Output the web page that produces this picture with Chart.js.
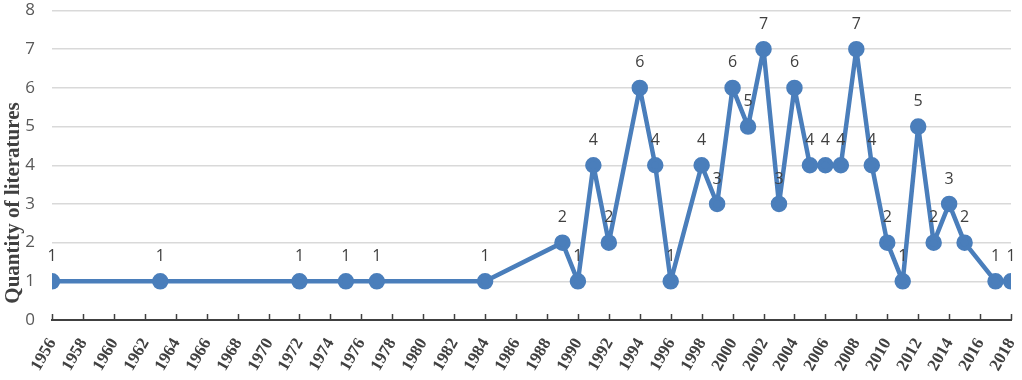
<!DOCTYPE html>
<html>
<head>
<meta charset="utf-8">
<script src="https://cdn.jsdelivr.net/npm/chart.js@4/dist/chart.umd.min.js"></script>
<style>
  html, body { margin: 0; padding: 0; background: #fff; }
  #wrap { width: 1022px; height: 380px; }
</style>
</head>
<body>
<div id="wrap"><canvas id="litChart"></canvas></div>
<script>
// years with publications and how many per year
const years = [1956, 1963, 1972, 1975, 1977, 1984, 1989, 1990, 1991, 1992, 1994, 1995, 1996,
  1998, 1999, 2000, 2001, 2002, 2003, 2004, 2005, 2006, 2007, 2008, 2009, 2010, 2011,
  2012, 2013, 2014, 2015, 2017, 2018];
const counts = [1, 1, 1, 1, 1, 1, 2, 1, 4, 2, 6, 4, 1,
  4, 3, 6, 5, 7, 3, 6, 4, 4, 4, 7, 4, 2, 1,
  5, 2, 3, 2, 1, 1];
const yearMin = 1956;
const yearMax = 2018;
const yearStep = 2;
const countMax = 8;
const yTitle = "Quantity of literatures";

const lineColor = "#4a7ebb";
const serif = "'Liberation Serif', 'DejaVu Serif', serif";
const sans = "'Open Sans', 'DejaVu Sans', sans-serif";

// number above each point
const valueLabels = {
  id: "valueLabels",
  afterDatasetsDraw(chart) {
    const ctx = chart.ctx;
    const meta = chart.getDatasetMeta(0);
    ctx.save();
    ctx.font = "16px " + sans;
    ctx.fillStyle = "#404040";
    ctx.textAlign = "center";
    ctx.textBaseline = "middle";
    meta.data.forEach((pt, i) => {
      ctx.fillText(String(counts[i]), pt.x, pt.y - 25);
    });
    ctx.restore();
  },
};

// tick marks on top of the x axis line, rotated year labels, y title
const axisDecor = {
  id: "axisDecor",
  afterDraw(chart) {
    const ctx = chart.ctx;
    const xs = chart.scales.x;
    const bottom = chart.chartArea.bottom;
    ctx.save();
    ctx.strokeStyle = "#404040";
    ctx.lineWidth = 1.5;
    ctx.fillStyle = "#404040";
    ctx.font = "bold 17px " + serif;
    ctx.textAlign = "right";
    ctx.textBaseline = "middle";
    xs.ticks.forEach((t) => {
      const px = Math.round(xs.getPixelForValue(t.value)) + 0.5;
      ctx.beginPath();
      ctx.moveTo(px, bottom - 6);
      ctx.lineTo(px, bottom);
      ctx.stroke();
      ctx.save();
      ctx.translate(px, bottom + 20);
      ctx.rotate(-Math.PI / 3);
      ctx.fillText(String(t.value), 0, 0);
      ctx.restore();
    });

    ctx.fillStyle = "#404040";
    ctx.font = "bold 21px " + serif;
    ctx.textAlign = "center";
    ctx.translate(14, 203);
    ctx.rotate(-Math.PI / 2);
    ctx.fillText(yTitle, 0, 0);
    ctx.restore();
  },
};

const ctx = document.getElementById("litChart").getContext("2d");
new Chart(ctx, {
  type: "line",
  data: {
    datasets: [
      {
        data: years.map((y, i) => ({ x: y, y: counts[i] })),
        borderColor: lineColor,
        backgroundColor: lineColor,
        borderWidth: 4.5,
        borderJoinStyle: "round",
        borderCapStyle: "round",
        pointRadius: 6,
        pointBackgroundColor: lineColor,
        pointBorderColor: lineColor,
        tension: 0,
        fill: false,
      },
    ],
  },
  options: {
    responsive: true,
    maintainAspectRatio: false,
    animation: false,
    layout: { padding: { top: 10, right: 11, left: 0, bottom: 0 } },
    plugins: {
      legend: { display: false },
      tooltip: { enabled: false },
    },
    scales: {
      x: {
        type: "linear",
        min: yearMin,
        max: yearMax,
        ticks: { stepSize: yearStep, autoSkip: false, display: false },
        grid: { display: false, drawTicks: false },
        border: { display: true, color: "#404040", width: 2 },
        afterFit: (scale) => {
          scale.height = 60;
          scale.paddingLeft = 0;
          scale.paddingRight = 0;
        },
      },
      y: {
        min: 0,
        max: countMax,
        ticks: {
          stepSize: 1,
          padding: 17,
          color: "#595959",
          font: { family: sans, size: 17 },
        },
        grid: { color: "#d9d9d9", lineWidth: 1.5, drawTicks: false },
        border: { display: false },
        afterFit: (scale) => {
          scale.width = 52;
          scale.paddingTop = 0;
          scale.paddingBottom = 0;
        },
      },
    },
  },
  plugins: [valueLabels, axisDecor],
});
</script>
</body>
</html>
